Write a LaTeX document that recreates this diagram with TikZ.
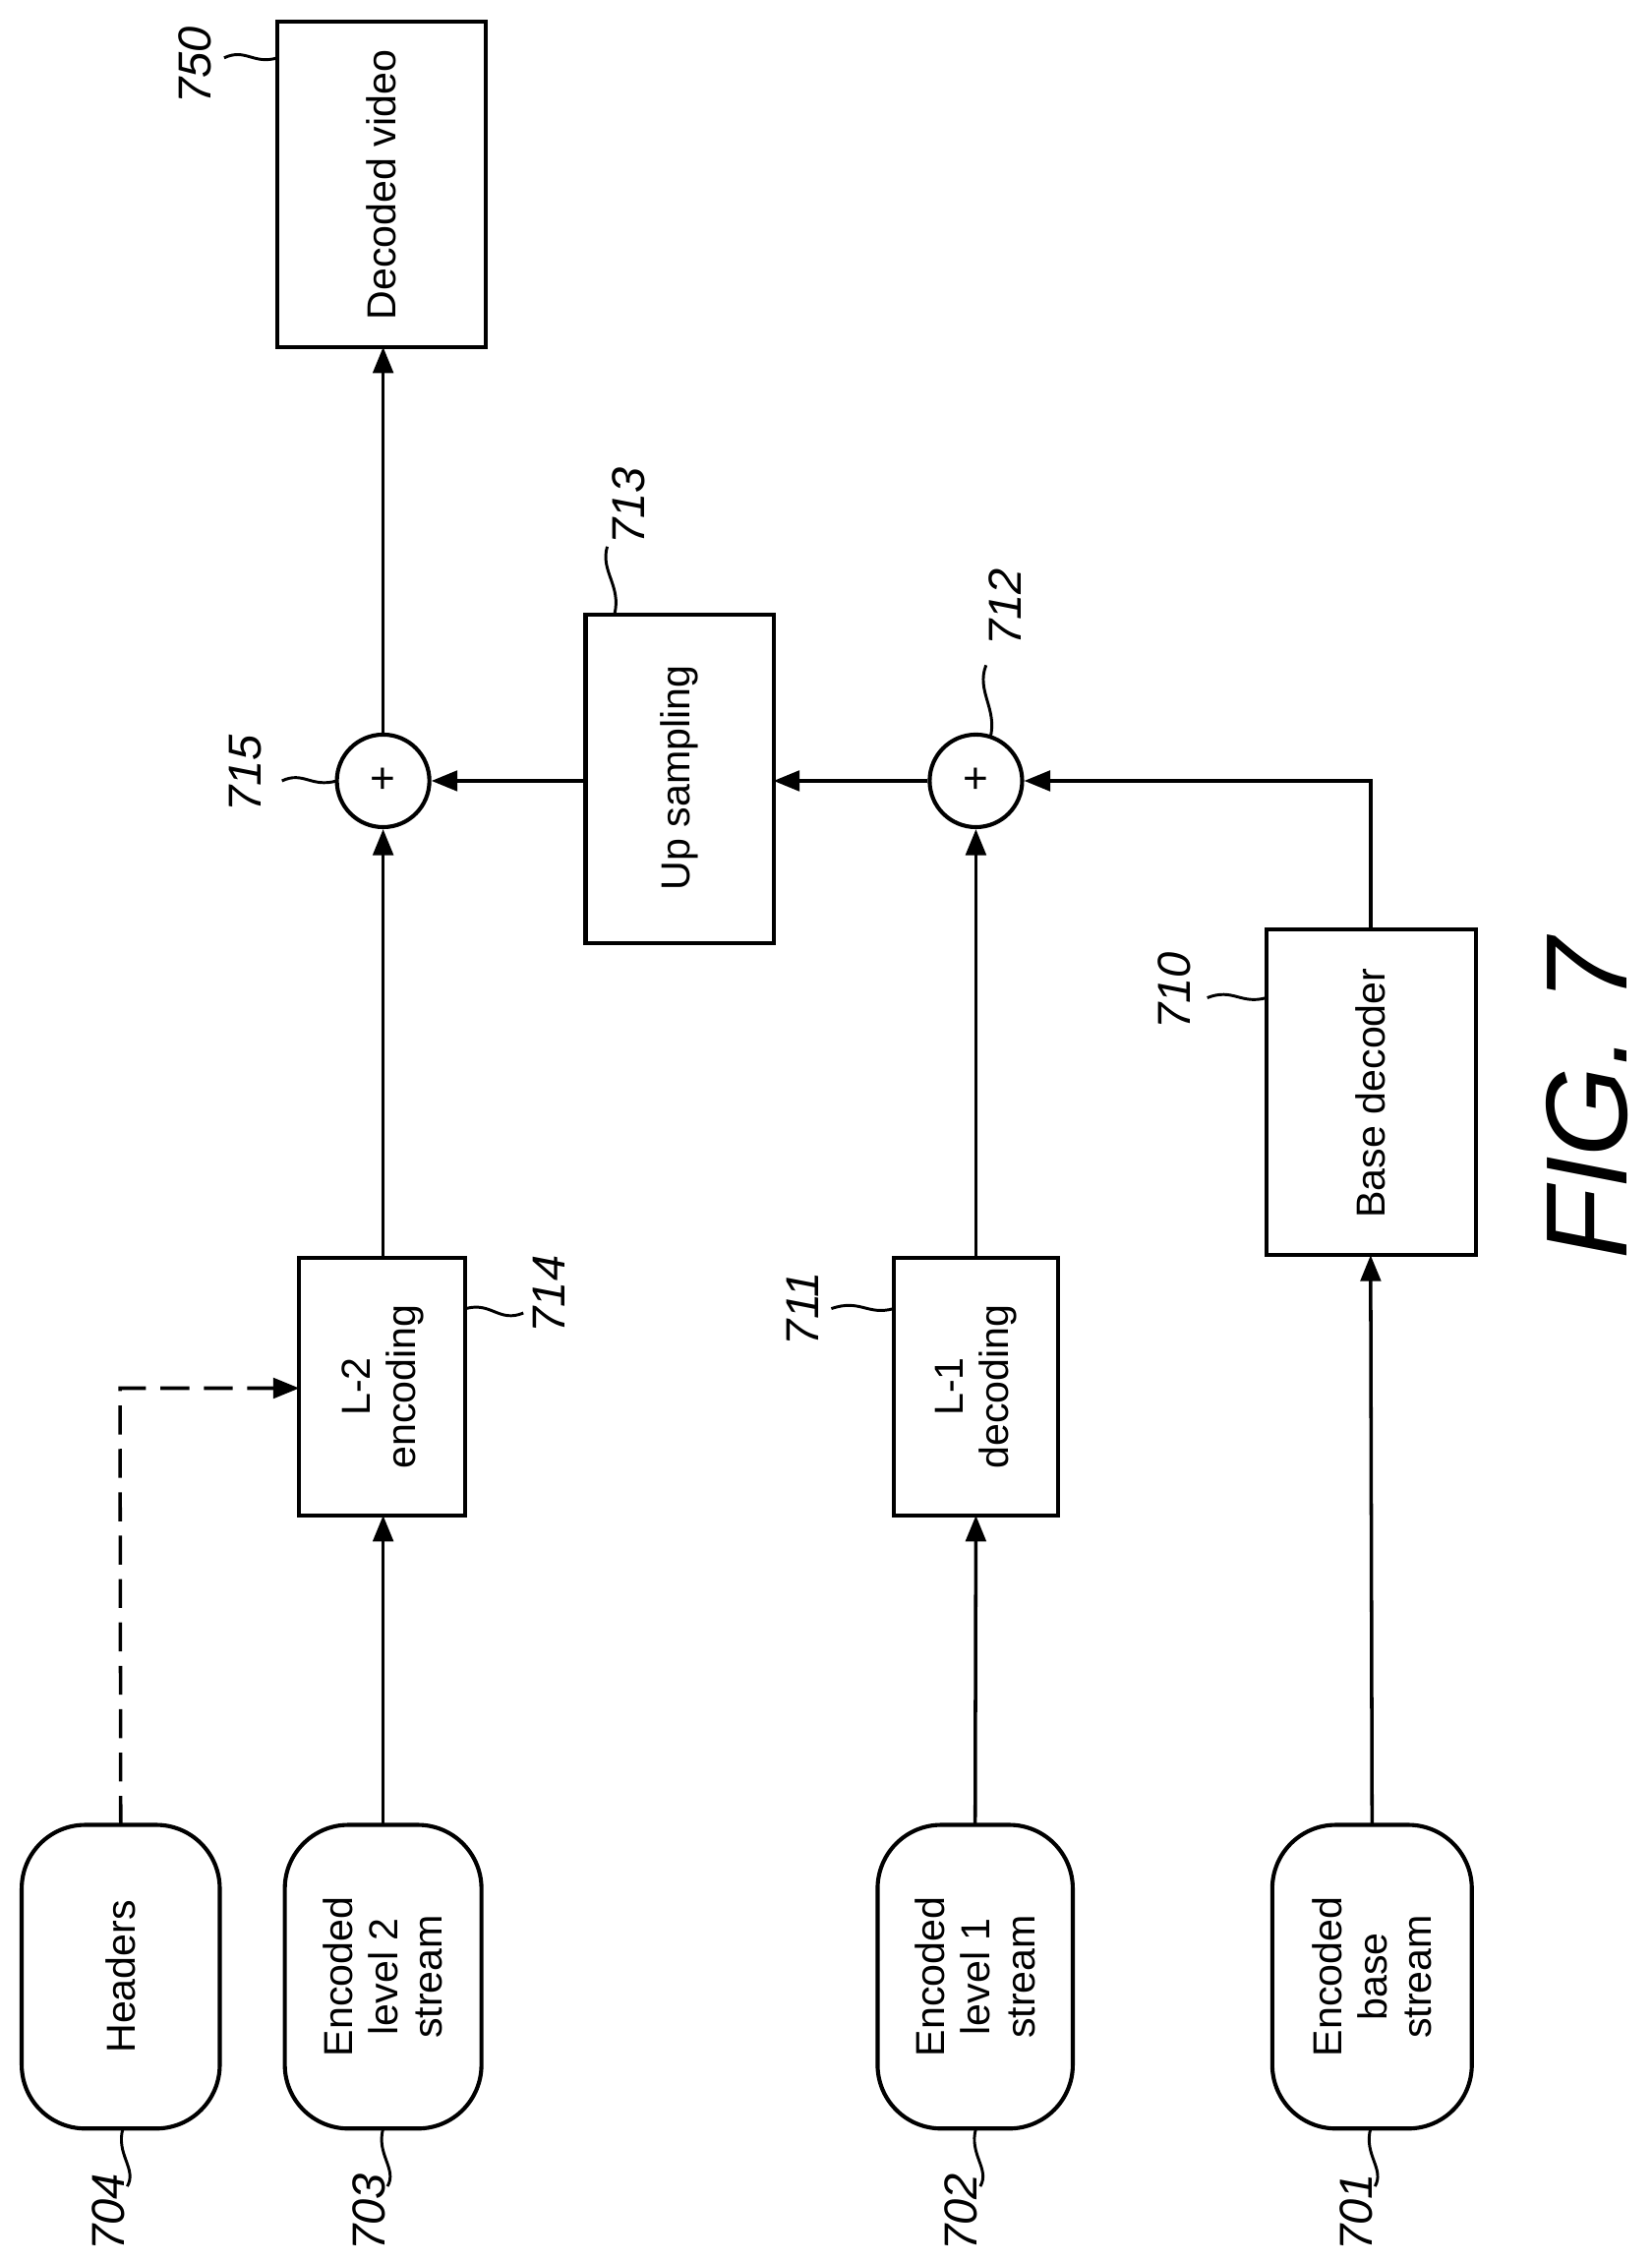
\documentclass[tikz,border=0pt]{standalone}
\usepackage{fontspec}
\setmainfont{Liberation Sans}
\usetikzlibrary{arrows.meta}
\begin{document}
\begin{tikzpicture}[x=0.5pt,y=-0.5pt,
 box/.style={draw,line width=1.4pt,fill=white},
 txt/.style={rotate=90,align=center,font=\fontsize{14}{15.5}\selectfont},
 lab/.style={rotate=90,font=\itshape\fontsize{16}{18}\selectfont},
 ar/.style={line width=1.2pt,-{Triangle[length=9pt,width=7pt]}},
 ld/.style={line width=1pt}]
\useasboundingbox (0,0) rectangle (1142,1565);
% stream shapes
\foreach \n/\a/\b/\t in {h/15/152/Headers, s2/197/333/{Encoded\\level 2\\stream}, s1/607/742/{Encoded\\level 1\\stream}, s0/880/1018/{Encoded\\base\\stream}}{
 \draw[box,rounded corners=22pt] (\a,1262) rectangle (\b,1472);
 \node[txt] (\n) at ({(\a+\b)/2},1367) {\t};
 \coordinate (\n top) at ({(\a+\b)/2},1262);
}
% boxes
\draw[box] (207,870) rectangle (322,1048); \node[txt] (l2) at (265,959) {L-2\\encoding};
\draw[box] (618,870) rectangle (732,1048); \node[txt] (l1) at (675,959) {L-1\\decoding};
\draw[box] (876,643) rectangle (1021,868); \node[txt] (bd) at (948,756) {Base decoder};
\draw[box] (405,425) rectangle (535,652); \node[txt] (up) at (470,538) {Up sampling};
\draw[box] (192,15) rectangle (336,240); \node[txt] (dv) at (264,128) {Decoded video};
\node[draw,circle,line width=1.4pt,minimum size=32pt,inner sep=0pt,font=\fontsize{15}{15}\selectfont] (c15) at (265,540) {+};
\node[draw,circle,line width=1.4pt,minimum size=32pt,inner sep=0pt,font=\fontsize{15}{15}\selectfont] (c12) at (675,540) {+};
% arrows
\draw[ar] (s2top) -- (265,1048);
\draw[ar] (265,870) -- (c15);
\draw[ar] (c15) -- (265,240);
\draw[ar] (405,540) -- (c15);
\draw[ar] (c12) -- (535,540);
\draw[ar] (675,870) -- (c12);
\draw[ar] (s1top) -- (675,1048);
\draw[ar] (948,643) -- (948,540) -- (c12);
\draw[ar] (s0top) -- (948,868);
\draw[ar,dashed,dash pattern=on 10pt off 5pt] (htop) -- (83,960) -- (207,960);
% labels with leaders
\draw[ld] (85,1472) .. controls (80,1490) and (95,1500) .. (88,1512);
\node[lab] (n704) at (75,1530) {704};
\draw[ld] (265,1472) .. controls (260,1490) and (275,1500) .. (268,1512);
\node[lab] (n703) at (255,1530) {703};
\draw[ld] (675,1472) .. controls (670,1490) and (685,1500) .. (678,1512);
\node[lab] (n702) at (665,1530) {702};
\draw[ld] (948,1472) .. controls (943,1490) and (958,1500) .. (951,1512);
\node[lab] (n701) at (938,1530) {701};
\draw[ld] (322,905) .. controls (340,900) and (345,915) .. (362,908);
\node[lab] (n714) at (380,895) {714};
\draw[ld] (618,905) .. controls (600,910) and (595,898) .. (575,905);
\node[lab] (n711) at (555,905) {711};
\draw[ld] (876,690) .. controls (858,695) and (853,683) .. (835,690);
\node[lab] (n710) at (812,685) {710};
\draw[ld] (425,425) .. controls (430,405) and (415,395) .. (420,378);
\node[lab] (n713) at (435,350) {713};
\draw[ld] (685,510) .. controls (690,490) and (675,478) .. (682,460);
\node[lab] (n712) at (695,420) {712};
\draw[ld] (233,540) .. controls (215,545) and (210,533) .. (195,540);
\node[lab] (n715) at (170,535) {715};
\draw[ld] (192,40) .. controls (175,45) and (170,33) .. (155,40);
\node[lab] (n750) at (135,45) {750};
\node[rotate=90,font=\itshape\fontsize{40}{42}\selectfont] (fig) at (1098,760) {FIG. 7};
\end{tikzpicture}
\end{document}
